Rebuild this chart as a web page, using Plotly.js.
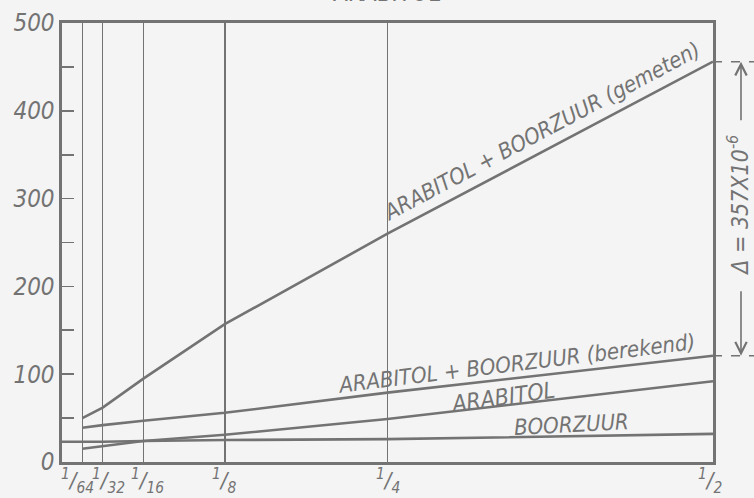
<!DOCTYPE html>
<html>
<head>
<meta charset="utf-8">
<script src="https://cdn.plot.ly/plotly-3.0.1.min.js"></script>
<style>
html,body{margin:0;padding:0;background:#f4f4f4;}
#chart{width:754px;height:498px;}
</style>
</head>
<body>
<div id="chart"></div>
<script>
// ---- data ----
const xFractions = [1/64, 1/32, 1/16, 1/8, 1/4, 1/2];
const xTickText = ['<sup>1</sup>/<sub>64</sub>', '<sup>1</sup>/<sub>32</sub>', '<sup>1</sup>/<sub>16</sub>',
                   '<sup>1</sup>/<sub>8</sub>', '<sup>1</sup>/<sub>4</sub>', '<sup>1</sup>/<sub>2</sub>'];
const gemeten  = [50, 62, 95, 157, 260, 456];   // ARABITOL + BOORZUUR (gemeten)
const berekend = [39, 42, 47, 56, 79, 121];     // ARABITOL + BOORZUUR (berekend)
const arabitol = [15, 18, 24, 31, 49, 92];      // ARABITOL
const boorzuurX = [0, 1/64, 1/32, 1/16, 1/8, 1/4, 1/2];
const boorzuur  = [23, 23, 23, 24, 25, 26, 32]; // BOORZUUR
const yTickVals = [0, 100, 200, 300, 400, 500];
const yTickText = ['0', '100', '200', '300', '400', '500'];
const deltaText = 'Δ = 357X10<sup>-6</sup>';

// ---- styling ----
const ink = '#737373';
const fam = '"Liberation Sans Narrow", "DejaVu Sans Condensed", "DejaVu Sans", sans-serif';
const lineStyle = {color: ink, width: 2.6};
const xLabelShift = [-5, 6, 4, -1, 0, -3];   // pixel nudges so crowded labels sit like the reference

const traces = [
  {x: xFractions, y: gemeten, mode: 'lines', line: lineStyle, name: 'gemeten'},
  {x: xFractions, y: berekend, mode: 'lines', line: lineStyle, name: 'berekend'},
  {x: xFractions, y: arabitol, mode: 'lines', line: lineStyle, name: 'arabitol'},
  {x: boorzuurX, y: boorzuur, mode: 'lines', line: lineStyle, name: 'boorzuur'}
];

const last = xFractions.length - 1;
const lblFont = {family: fam, size: 22, color: ink, style: 'italic'};

const annotations = [
  {x: 0.368, y: 376, xref: 'x', yref: 'y', text: 'ARABITOL + BOORZUUR (gemeten)', textangle: -28,
   showarrow: false, font: lblFont},
  {x: 0.349, y: 112, xref: 'x', yref: 'y', text: 'ARABITOL + BOORZUUR (berekend)', textangle: -7,
   showarrow: false, font: lblFont},
  {x: 0.338, y: 74, xref: 'x', yref: 'y', text: 'ARABITOL', textangle: -8,
   showarrow: false, font: {family: fam, size: 23, color: ink, style: 'italic'}},
  {x: 0.391, y: 43, xref: 'x', yref: 'y', text: 'BOORZUUR', textangle: -3,
   showarrow: false, font: lblFont},
  // partially cut title at the very top
  {x: 0.498, y: 1.031, xref: 'paper', yref: 'paper', xanchor: 'center', yanchor: 'bottom', text: 'ARABITOL',
   showarrow: false, font: {family: fam, size: 24, color: ink}},
  // delta text
  {x: 1.0384, y: 0.586, xref: 'paper', yref: 'paper', xanchor: 'center', yanchor: 'middle',
   text: deltaText, textangle: -90,
   showarrow: false, font: {family: fam, size: 23, color: ink, style: 'italic'}},
  // arrows
  {x: 1.043, y: gemeten[last], xref: 'paper', yref: 'y', text: '', showarrow: true,
   ax: 0, ay: 60, arrowhead: 5, arrowsize: 1.4, arrowwidth: 1.6, arrowcolor: ink, standoff: 0},
  {x: 1.043, y: berekend[last], xref: 'paper', yref: 'y', text: '', showarrow: true,
   ax: 0, ay: -66, arrowhead: 5, arrowsize: 1.4, arrowwidth: 1.6, arrowcolor: ink, standoff: 0}
];

// x tick labels drawn as annotations from the tick arrays
xFractions.forEach((v, i) => {
  annotations.push({x: v, y: 0, xref: 'x', yref: 'paper', xanchor: 'center', yanchor: 'top', yshift: -1,
    xshift: xLabelShift[i], text: xTickText[i], showarrow: false,
    font: {family: fam, size: 22, color: ink, style: 'italic'}});
});

const shapes = [
  {type: 'line', xref: 'paper', yref: 'y', x0: 1, x1: 1.08, y0: gemeten[last], y1: gemeten[last],
   line: {color: ink, width: 1.5, dash: 'dash'}},
  {type: 'line', xref: 'paper', yref: 'y', x0: 1, x1: 1.08, y0: berekend[last], y1: berekend[last],
   line: {color: ink, width: 1.5, dash: 'dash'}}
];

const layout = {
  width: 754, height: 498,
  margin: {l: 62, r: 41, t: 23, b: 36},
  paper_bgcolor: '#f4f4f4', plot_bgcolor: '#f4f4f4',
  showlegend: false,
  xaxis: {
    range: [0, 0.5], tickmode: 'array', tickvals: xFractions, ticktext: xTickText,
    showticklabels: false, ticks: '', showgrid: true, gridcolor: ink, gridwidth: 1.6,
    showline: true, mirror: true, linecolor: ink, linewidth: 2.6, zeroline: false, fixedrange: true
  },
  yaxis: {
    range: [0, 500], tickmode: 'array', tickvals: yTickVals, ticktext: yTickText,
    ticks: 'inside', ticklen: 12, tickwidth: 1.6, tickcolor: ink,
    minor: {tickmode: 'linear', tick0: 0, dtick: 50, ticks: 'inside', ticklen: 12, tickwidth: 1.6, tickcolor: ink, showgrid: false},
    showgrid: false, showline: true, mirror: true, linecolor: ink, linewidth: 2.6, zeroline: false,
    tickfont: {family: fam, size: 24, color: ink, style: 'italic'}, fixedrange: true
  },
  annotations: annotations,
  shapes: shapes
};

Plotly.newPlot('chart', traces, layout, {displayModeBar: false, staticPlot: true});
</script>
</body>
</html>
